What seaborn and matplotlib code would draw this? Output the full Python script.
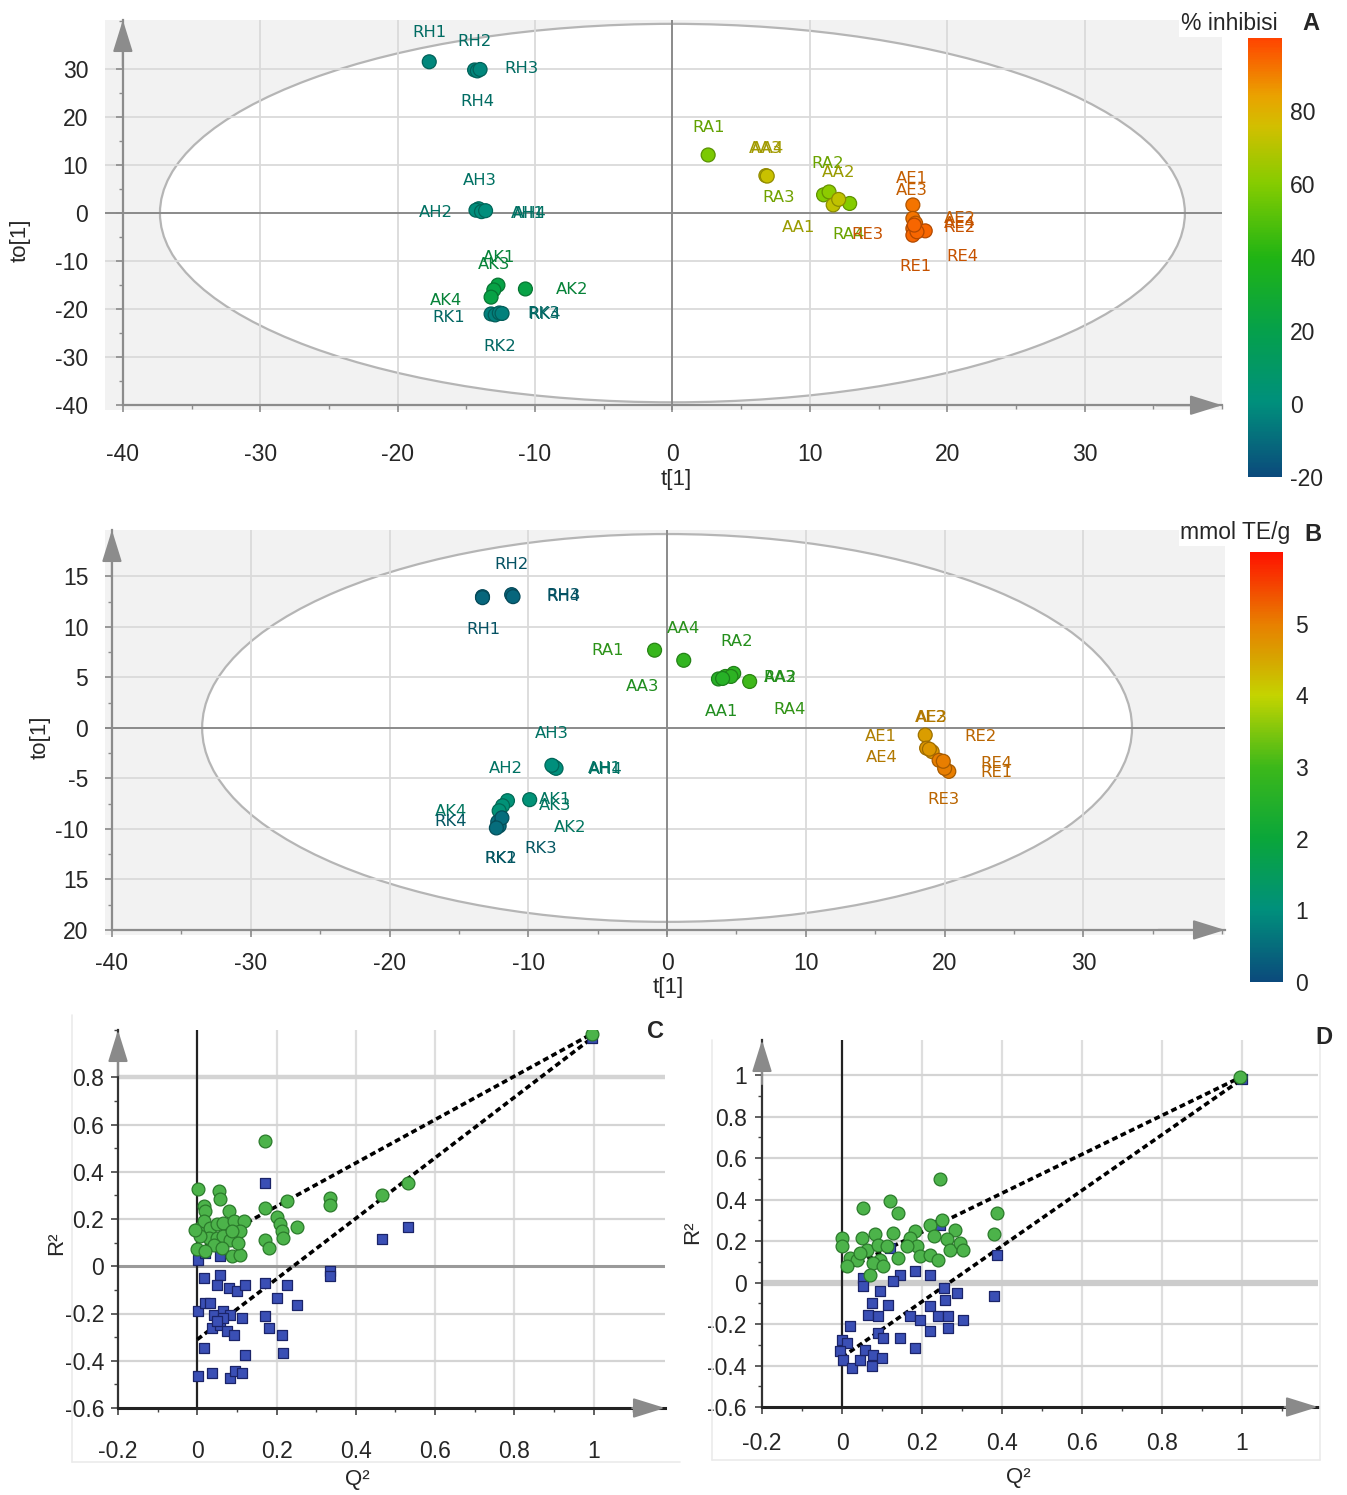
import numpy as np
import pandas as pd
import matplotlib
matplotlib.use('Agg')
import matplotlib.pyplot as plt
import seaborn as sns
from matplotlib.colors import LinearSegmentedColormap, Normalize, to_rgb
from matplotlib.patches import Ellipse
from matplotlib.ticker import MultipleLocator
from matplotlib.cm import ScalarMappable
from matplotlib.lines import Line2D

sns.set_style('white')
plt.rcParams['font.family'] = ['Liberation Sans', 'DejaVu Sans']
plt.rcParams['axes.unicode_minus'] = False

# ---------------- DATA ----------------
samples = ['RH1', 'RH2', 'RH3', 'RH4', 'AH1', 'AH2', 'AH3', 'AH4',
           'AK1', 'AK2', 'AK3', 'AK4', 'RK1', 'RK2', 'RK3', 'RK4',
           'RA1', 'RA2', 'RA3', 'RA4', 'AA1', 'AA2', 'AA3', 'AA4',
           'AE1', 'AE2', 'AE3', 'AE4', 'RE1', 'RE2', 'RE3', 'RE4']

# Panel A: scores and % inhibisi
t_A = [-17.7, -14.4, -14.2, -14.0, -14.1, -14.3, -13.9, -13.6,
       -12.7, -10.7, -13.0, -13.2, -13.2, -12.9, -12.6, -12.4,
       2.6, 11.0, 11.4, 12.9, 11.7, 12.1, 6.8, 6.9,
       17.5, 17.5, 17.7, 17.5, 17.5, 18.4, 17.8, 17.6]
to_A = [31.5, 29.8, 29.6, 29.9, 0.9, 0.6, 0.3, 0.5,
        -15.0, -15.8, -16.0, -17.5, -21.0, -21.2, -20.8, -20.9,
        12.1, 3.8, 4.4, 2.0, 1.7, 2.85, 7.8, 7.7,
        1.7, -1.1, -2.1, -3.2, -4.6, -3.7, -3.9, -2.5]
inhib_A = [-2, -2, -2, -2, 0, 0, 0, 0,
           22, 22, 22, 22, -4, -4, -4, -4,
           58, 60, 62, 60, 72, 72, 74, 74,
           92, 92, 92, 93, 94, 94, 94, 94]
# label anchor points (A)
lab_t_A = [-17.7, -14.4, -11.0, -14.2, -10.5, -17.2, -14.0, -10.4,
           -12.6, -7.3, -13.0, -16.5, -16.3, -12.6, -9.4, -9.3,
           2.6, 11.3, 7.7, 12.8, 9.2, 12.1, 6.8, 6.9,
           17.4, 20.9, 17.4, 20.9, 17.7, 20.9, 14.2, 21.1]
lab_to_A = [37.5, 35.8, 30.0, 23.3, 0.0, 0.2, 6.7, -0.1,
            -9.2, -16.0, -10.8, -18.1, -21.7, -27.7, -21.0, -21.1,
            17.9, 10.4, 3.3, -4.4, -2.9, 8.5, 13.5, 13.4,
            7.3, -1.2, 4.8, -2.2, -11.2, -3.1, -4.4, -9.0]

# Panel B: scores and mmol TE/g
t_B = [-13.3, -11.2, -11.1, -13.3, -8.2, -8.1, -8.0, -8.3,
       -9.9, -11.5, -11.85, -12.1, -12.2, -12.1, -11.9, -12.3,
       -0.9, 4.2, 4.8, 5.95, 3.7, 4.6, 4.0, 1.2,
       18.6, 18.7, 19.1, 18.9, 20.3, 19.6, 20.0, 19.9]
to_B = [13.0, 13.2, 13.0, 12.9, -3.8, -3.9, -4.0, -3.7,
        -7.1, -7.2, -7.7, -8.2, -9.3, -9.7, -8.9, -9.9,
        7.7, 5.1, 5.4, 4.6, 4.85, 5.1, 4.9, 6.7,
        -0.7, -2.0, -2.35, -2.1, -4.3, -3.2, -4.0, -3.3]
te_B = [0.4, 0.4, 0.4, 0.4, 1.0, 1.0, 1.0, 1.0,
        1.1, 1.1, 1.1, 1.1, 0.5, 0.5, 0.5, 0.5,
        2.9, 2.7, 2.7, 3.0, 2.6, 2.7, 2.6, 2.8,
        4.6, 4.7, 4.7, 4.7, 5.0, 5.0, 5.0, 5.0]
lab_t_B = [-13.2, -11.2, -7.5, -7.45, -4.5, -11.65, -8.3, -4.45,
           -8.1, -7.0, -8.1, -15.6, -12.0, -11.95, -9.1, -15.6,
           -4.3, 5.0, 8.1, 8.85, 3.9, 8.15, -1.8, 1.15,
           15.4, 19.0, 19.05, 15.5, 23.7, 22.6, 19.9, 23.7]
lab_to_B = [9.7, 16.2, 13.1, 13.0, -4.0, -4.0, -0.5, -4.1,
            -7.1, -9.9, -7.7, -8.3, -12.9, -12.95, -11.9, -9.3,
            7.7, 8.6, 5.0, 1.8, 1.6, 4.95, 4.1, 9.8,
            -0.8, 1.0, 1.05, -2.9, -4.4, -0.8, -7.1, -3.5]

# Panel C: permutation test (green = R2, blue = Q2)
C_r2_x = [0.171, 0.003, 0.056, 0.058, 0.016, 0.020, 0.081, 0.171, 0.226, 0.335,
          0.335, 0.465, 0.532, 0.200, 0.209, 0.213, 0.217, 0.251, 0.171, 0.180,
          0.008, 0.016, 0.033, 0.050, 0.066, 0.092, 0.117, 0.029, 0.050, 0.066,
          0.083, 0.108, 0.008, 0.041, 0.062, 0.087, 0.108, 0.104, -0.001, 0.020,
          -0.005, 0.087, 0.997]
C_r2_y = [0.530, 0.325, 0.318, 0.283, 0.254, 0.233, 0.233, 0.247, 0.275, 0.290,
          0.260, 0.300, 0.353, 0.210, 0.180, 0.148, 0.120, 0.165, 0.113, 0.078,
          0.162, 0.191, 0.162, 0.177, 0.184, 0.191, 0.191, 0.120, 0.120, 0.127,
          0.113, 0.148, 0.127, 0.092, 0.078, 0.042, 0.049, 0.099, 0.071, 0.064,
          0.155, 0.148, 0.985]
C_q2_x = [0.171, 0.532, 0.465, 0.335, 0.335, 0.003, 0.020, 0.058, 0.016, 0.058,
          0.050, 0.079, 0.100, 0.121, 0.171, 0.226, 0.200, 0.251, 0.003, 0.020,
          0.033, 0.041, 0.066, 0.083, 0.113, 0.037, 0.058, 0.075, 0.092, 0.171,
          0.180, 0.213, 0.217, 0.121, 0.016, 0.003, 0.037, 0.083, 0.096, 0.113,
          0.066, 0.050, 0.995]
C_q2_y = [0.353, 0.165, 0.114, -0.021, -0.040, 0.028, 0.056, 0.042, -0.050, -0.035,
          -0.078, -0.092, -0.106, -0.078, -0.071, -0.078, -0.134, -0.162, -0.190, -0.155,
          -0.155, -0.205, -0.190, -0.205, -0.219, -0.261, -0.247, -0.275, -0.290, -0.212,
          -0.261, -0.290, -0.367, -0.374, -0.346, -0.466, -0.452, -0.473, -0.445, -0.452,
          -0.219, -0.233, 0.965]
C_r2_intercept = 0.07
C_q2_intercept = -0.31

# Panel D
D_r2_x = [0.245, 0.053, 0.120, 0.141, 0.387, 0.379, -0.001, 0.049, 0.083, 0.128,
          0.183, 0.220, 0.250, 0.283, -0.001, 0.020, 0.037, 0.062, 0.091, 0.095,
          0.078, 0.103, 0.141, 0.170, 0.187, 0.195, 0.220, 0.241, 0.262, 0.270,
          0.295, 0.303, 0.012, 0.070, 0.045, 0.112, 0.162, 0.229, 0.996]
D_r2_y = [0.498, 0.360, 0.393, 0.336, 0.336, 0.232, 0.216, 0.216, 0.232, 0.240,
          0.248, 0.280, 0.304, 0.256, 0.175, 0.119, 0.111, 0.159, 0.183, 0.111,
          0.095, 0.079, 0.119, 0.216, 0.175, 0.127, 0.135, 0.111, 0.208, 0.159,
          0.191, 0.159, 0.079, 0.039, 0.143, 0.175, 0.175, 0.224, 0.990]
D_q2_x = [0.245, 0.120, 0.387, 0.379, 0.053, 0.053, 0.145, 0.183, 0.220, 0.128,
          0.095, 0.254, 0.287, 0.074, 0.116, 0.066, 0.091, 0.170, 0.195, 0.220,
          0.241, 0.258, 0.266, 0.266, 0.220, 0.303, 0.020, -0.001, 0.012, -0.005,
          0.003, 0.024, 0.045, 0.058, 0.078, 0.074, 0.099, 0.091, 0.103, 0.145,
          0.183, 0.999]
D_q2_y = [0.280, 0.167, 0.135, -0.066, 0.022, -0.018, 0.038, 0.054, 0.038, 0.006,
          -0.042, -0.026, -0.050, -0.098, -0.106, -0.154, -0.162, -0.162, -0.179, -0.114,
          -0.162, -0.082, -0.162, -0.219, -0.235, -0.179, -0.211, -0.275, -0.291, -0.332,
          -0.372, -0.412, -0.372, -0.324, -0.348, -0.404, -0.364, -0.243, -0.267, -0.267,
          -0.316, 0.980]
D_r2_intercept = 0.056
D_q2_intercept = -0.36

# ---------------- STYLE ----------------
W, H = 1347, 1495
fig = plt.figure(figsize=(W / 100, H / 100), dpi=100)
fig.patch.set_facecolor('white')


def rect(l, t, r, b):
    return [l / W, 1 - b / H, (r - l) / W, (b - t) / H]


cmapA = LinearSegmentedColormap.from_list('inh', [
    (0.0, '#0b4a7c'), (0.17, '#00907c'), (0.33, '#05a04c'), (0.5, '#20b414'),
    (0.67, '#86cc00'), (0.8, '#d2bf00'), (0.87, '#eaa200'), (1.0, '#ff4400')])
normA = Normalize(-20, 100)
cmapB = LinearSegmentedColormap.from_list('te', [
    (0.0, '#0b4a7c'), (0.167, '#00907c'), (0.333, '#0aa63a'), (0.5, '#3cb81a'),
    (0.667, '#c4d400'), (0.75, '#d6a600'), (0.833, '#e88000'), (1.0, '#ff1200')])
normB = Normalize(0, 6)

TICKFS = 16.5
GRAY = '#8c8c8c'


def darker(c, f):
    r, g, b = to_rgb(c)
    return (r * f, g * f, b * f)


def arrowheads(ax, x0, y0, xr, yt, color):
    dy = (yt - y0) * 0.12
    dx = (xr - x0) * 0.06
    ap = dict(arrowstyle='-|>,head_length=0.9,head_width=0.28', color=color, lw=1.5,
              mutation_scale=22, shrinkA=0, shrinkB=0)
    ax.annotate('', xy=(x0, yt), xytext=(x0, yt - dy), arrowprops=ap, annotation_clip=False, zorder=6)
    ax.annotate('', xy=(xr, y0), xytext=(xr - dx, y0), arrowprops=ap, annotation_clip=False, zorder=6)


def score_panel(ax, t, to, val, cmap, norm, labt, labto, xlim, ylim, x0, y0, ell,
                xt, yt, yticklabels, xminor, yminor, xpad, ypad):
    ax.set_xlim(*xlim)
    ax.set_ylim(*ylim)
    ax.set_facecolor('#f2f2f2')
    ax.add_patch(Ellipse((0, 0), 2 * ell[0], 2 * ell[1], facecolor='white',
                         edgecolor='#b5b5b5', lw=1.6, zorder=0.2))
    for v in xt:
        if v != 0 and v != x0:
            ax.axvline(v, color='#dadada', lw=1.3, zorder=0.5)
    for v in yt:
        if v != 0 and v != y0:
            ax.axhline(v, color='#dadada', lw=1.3, zorder=0.5)
    ax.axvline(0, color='#8a8a8a', lw=1.4, zorder=0.6)
    ax.axhline(0, color='#8a8a8a', lw=1.4, zorder=0.6)
    df = pd.DataFrame({'t': t, 'to': to, 'val': val, 'name': samples})
    edges = [darker(cmap(norm(v)), 0.72) for v in val]
    sns.scatterplot(data=df, x='t', y='to', hue='val', palette=cmap, hue_norm=norm,
                    s=100, edgecolor=edges, linewidth=0.9, legend=False, ax=ax, zorder=4)
    for n, lx, ly, v in zip(samples, labt, labto, val):
        ax.text(lx, ly, n, ha='center', va='center', fontsize=11.8,
                family='DejaVu Sans', color=darker(cmap(norm(v)), 0.8), zorder=5)
    for s in ['top', 'right']:
        ax.spines[s].set_visible(False)
    ax.spines['left'].set_position(('data', x0))
    ax.spines['bottom'].set_position(('data', y0))
    ax.spines['left'].set_bounds(y0, ylim[1])
    ax.spines['bottom'].set_bounds(x0, xlim[1])
    for s in ['left', 'bottom']:
        ax.spines[s].set_color(GRAY)
        ax.spines[s].set_linewidth(1.6)
    ax.set_xticks(xt)
    ax.set_xticklabels([str(v) for v in xt])
    ax.set_yticks(yt)
    ax.set_yticklabels(yticklabels)
    ax.xaxis.set_minor_locator(MultipleLocator(xminor))
    ax.yaxis.set_minor_locator(MultipleLocator(yminor))
    ax.tick_params(axis='both', which='both', direction='out', color=GRAY,
                   labelsize=TICKFS, bottom=True, left=True)
    ax.tick_params(which='major', length=5, width=1.2)
    ax.tick_params(which='minor', length=3, width=1.0)
    ax.tick_params(axis='x', which='major', pad=xpad)
    ax.tick_params(axis='y', which='major', pad=ypad)
    ax.set_xlabel('')
    ax.set_ylabel('')
    ax.grid(False)
    arrowheads(ax, x0, y0, xlim[1], ylim[1], GRAY)


def perm_panel(ax, gx, gy, bx, by, gint, bint, xlim, ylim, yt, ytl, zero_style,
               thick_lines, xpad, ypad):
    ax.set_xlim(*xlim)
    ax.set_ylim(*ylim)
    ax.set_facecolor('white')
    for v in [0.2, 0.4, 0.6, 0.8, 1.0]:
        ax.axvline(v, color='#dedede', lw=1.6, zorder=0.5)
    for v in yt:
        if v == 0 or v == -0.6:
            continue
        lw = 3.2 if v in thick_lines else 1.6
        ax.axhline(v, color='#d4d4d4', lw=lw, zorder=0.5)
    ax.axhline(0, color=zero_style[0], lw=zero_style[1], zorder=0.6)
    ax.axvline(0, color='#222222', lw=1.6, zorder=0.7)
    ax.plot([0, gx[-1]], [gint, gy[-1]], color='black', lw=2.6,
            linestyle=(0, (1.6, 1.0)), zorder=2)
    ax.plot([0, bx[-1]], [bint, by[-1]], color='black', lw=2.6,
            linestyle=(0, (1.6, 1.0)), zorder=2)
    sns.scatterplot(x=bx, y=by, marker='s', s=55, color='#3a4fb5',
                    edgecolor='#1b2468', linewidth=0.9, ax=ax, zorder=3, legend=False)
    sns.scatterplot(x=gx, y=gy, marker='o', s=85, color='#4cb34a',
                    edgecolor='#2b7a2b', linewidth=0.9, ax=ax, zorder=4, legend=False)
    for s in ['top', 'right']:
        ax.spines[s].set_visible(False)
    ax.spines['left'].set_position(('data', -0.2))
    ax.spines['bottom'].set_position(('data', -0.6))
    ax.spines['left'].set_bounds(-0.6, ylim[1])
    ax.spines['bottom'].set_bounds(-0.2, xlim[1])
    ax.spines['left'].set_color('#333333')
    ax.spines['left'].set_linewidth(1.6)
    ax.spines['bottom'].set_color('#222222')
    ax.spines['bottom'].set_linewidth(2.2)
    xt = [-0.2, 0, 0.2, 0.4, 0.6, 0.8, 1.0]
    ax.set_xticks(xt)
    ax.set_xticklabels(['-0.2', '0', '0.2', '0.4', '0.6', '0.8', '1'])
    ax.set_yticks(yt)
    ax.set_yticklabels(ytl)
    ax.xaxis.set_minor_locator(MultipleLocator(0.1))
    ax.yaxis.set_minor_locator(MultipleLocator(0.1))
    ax.tick_params(axis='both', which='both', direction='out', color='#444444',
                   labelsize=TICKFS, bottom=True, left=True)
    ax.tick_params(which='major', length=5, width=1.2)
    ax.tick_params(which='minor', length=3, width=1.0)
    ax.tick_params(axis='x', which='major', pad=xpad)
    ax.tick_params(axis='y', which='major', pad=ypad)
    ax.grid(False)
    arrowheads(ax, -0.2, -0.6, xlim[1], ylim[1], '#8a8a8a')


# ---------------- PANEL A ----------------
axA = fig.add_axes(rect(105, 20, 1222, 410))
score_panel(axA, t_A, to_A, inhib_A, cmapA, normA, lab_t_A, lab_to_A,
            (-41.3, 40), (-41, 40.2), -40, -40, (37.3, 39.4),
            [-40, -30, -20, -10, 0, 10, 20, 30], [-40, -30, -20, -10, 0, 10, 20, 30],
            ['-40', '-30', '-20', '-10', '0', '10', '20', '30'], 5, 5, 22, 20)
fig.text(676 / W, 1 - 480 / H, 't[1]', ha='center', va='center', fontsize=16)
fig.text(20 / W, 1 - 240 / H, 'to[1]', ha='center', va='center', fontsize=16, rotation=90)

caxA = fig.add_axes(rect(1248, 38, 1282, 477))
cbA = fig.colorbar(ScalarMappable(norm=normA, cmap=cmapA), cax=caxA)
cbA.outline.set_visible(False)
cbA.set_ticks([-20, 0, 20, 40, 60, 80])
caxA.tick_params(length=0, labelsize=TICKFS, pad=6)
fig.text(1229 / W, 1 - 24 / H, '% inhibisi', ha='center', va='center', fontsize=16.5,
         bbox=dict(facecolor='white', edgecolor='none', pad=1))
fig.text(1311 / W, 1 - 24 / H, 'A', ha='center', va='center', fontsize=17, fontweight='bold')

# ---------------- PANEL B ----------------
axB = fig.add_axes(rect(105, 530, 1225, 935))
score_panel(axB, t_B, to_B, te_B, cmapB, normB, lab_t_B, lab_to_B,
            (-40.5, 40.2), (-20.5, 19.6), -40, -20, (33.5, 19.2),
            [-40, -30, -20, -10, 0, 10, 20, 30], [-20, -15, -10, -5, 0, 5, 10, 15],
            ['20', '15', '-10', '-5', '0', '5', '10', '15'], 5, 2.5, 11, 12)
fig.text(668 / W, 1 - 988 / H, 't[1]', ha='center', va='center', fontsize=16)
fig.text(40 / W, 1 - 737 / H, 'to[1]', ha='center', va='center', fontsize=16, rotation=90)

caxB = fig.add_axes(rect(1250, 552, 1283, 982))
cbB = fig.colorbar(ScalarMappable(norm=normB, cmap=cmapB), cax=caxB)
cbB.outline.set_visible(False)
cbB.set_ticks([0, 1, 2, 3, 4, 5])
caxB.tick_params(length=0, labelsize=TICKFS, pad=9)
fig.text(1235 / W, 1 - 533 / H, 'mmol TE/g', ha='center', va='center', fontsize=16.5,
         bbox=dict(facecolor='white', edgecolor='none', pad=1))
fig.text(1313 / W, 1 - 534 / H, 'B', ha='center', va='center', fontsize=17, fontweight='bold')

# ---------------- PANEL C ----------------
axC = fig.add_axes(rect(118, 1030, 665, 1408))
perm_panel(axC, C_r2_x, C_r2_y, C_q2_x, C_q2_y, C_r2_intercept, C_q2_intercept,
           (-0.2, 1.18), (-0.6, 1.0),
           [-0.6, -0.4, -0.2, 0, 0.2, 0.4, 0.6, 0.8],
           ['-0.6', '-0.4', '-0.2', '0', '0.2', '0.4', '0.6', '0.8'],
           ('#9a9a9a', 2.2), [0.8], 18, 5)
fig.text(357 / W, 1 - 1480 / H, 'Q²', ha='center', va='center', fontsize=16)
fig.text(57 / W, 1 - 1243 / H, 'R²', ha='center', va='center', fontsize=16, rotation=90)
fig.text(655 / W, 1 - 1031 / H, 'C', ha='center', va='center', fontsize=17, fontweight='bold')

# ---------------- PANEL D ----------------
axD = fig.add_axes(rect(762, 1040, 1318, 1407))
perm_panel(axD, D_r2_x, D_r2_y, D_q2_x, D_q2_y, D_r2_intercept, D_q2_intercept,
           (-0.2, 1.19), (-0.6, 1.17),
           [-0.6, -0.4, -0.2, 0, 0.2, 0.4, 0.6, 0.8, 1.0],
           ['-0.6', '-0.4', '-0.2', '0', '0.2', '0.4', '0.6', '0.8', '1'],
           ('#cccccc', 4.5), [], 13, 6)
fig.text(1018 / W, 1 - 1477 / H, 'Q²', ha='center', va='center', fontsize=16)
fig.text(693 / W, 1 - 1232 / H, 'R²', ha='center', va='center', fontsize=16, rotation=90)
fig.text(1324 / W, 1 - 1038 / H, 'D', ha='center', va='center', fontsize=17, fontweight='bold')

# faint frame lines around the lower panels
for (x1, y1, x2, y2) in [(72, 1015, 72, 1462), (72, 1462, 680, 1462),
                         (712, 1040, 712, 1460), (712, 1460, 1320, 1460),
                         (1320, 1040, 1320, 1460)]:
    fig.add_artist(Line2D([x1 / W, x2 / W], [1 - y1 / H, 1 - y2 / H],
                          color='#ebebeb', lw=1.2))

fig.savefig('out.png', dpi=100)
